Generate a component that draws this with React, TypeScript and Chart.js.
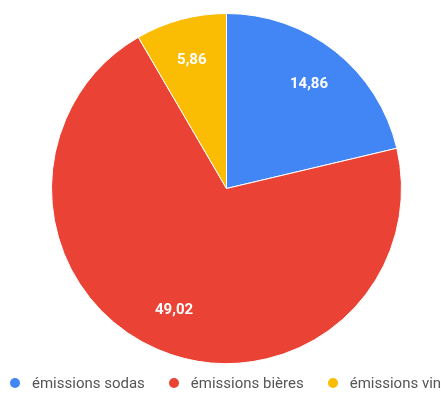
import React, { useEffect, useRef } from "react";
import { Chart, registerables } from "chart.js";

Chart.register(...registerables);

const categories = ["émissions sodas", "émissions bières", "émissions vin"];
const values = [14.86, 49.02, 5.86];
const colors = ["#4285F4", "#EA4335", "#FBBC04"];

const fmt = (v: number) => v.toFixed(2).replace(".", ",");

const sliceLabels = {
  id: "sliceLabels",
  afterDatasetsDraw(chart: any) {
    const ctx = chart.ctx;
    const meta = chart.getDatasetMeta(0);
    ctx.save();
    ctx.fillStyle = "#ffffff";
    ctx.font = "bold 15px Roboto, Arial, sans-serif";
    ctx.textAlign = "center";
    ctx.textBaseline = "middle";
    meta.data.forEach((arc: any, i: number) => {
      const { x, y, startAngle, endAngle, outerRadius } = arc.getProps(
        ["x", "y", "startAngle", "endAngle", "outerRadius"],
        true
      );
      const mid = (startAngle + endAngle) / 2;
      const r = outerRadius * 0.76;
      ctx.fillText(fmt(values[i]), x + Math.cos(mid) * r, y + Math.sin(mid) * r);
    });
    ctx.restore();
  },
};

export default function App() {
  const ref = useRef<HTMLCanvasElement | null>(null);
  useEffect(() => {
    if (!ref.current) return;
    const chart = new Chart(ref.current, {
      type: "pie",
      data: {
        labels: categories,
        datasets: [
          {
            data: values,
            backgroundColor: colors,
            borderColor: "#ffffff",
            borderWidth: 1,
          },
        ],
      },
      options: {
        animation: false,
        responsive: false,
        layout: { padding: { top: 13, bottom: 32, left: 51, right: 40 } },
        plugins: {
          legend: { display: false },
          tooltip: { enabled: false },
        },
      },
      plugins: [sliceLabels],
    });
    return () => chart.destroy();
  }, []);

  return (
    <div
      style={{
        position: "fixed",
        left: 0,
        top: 0,
        width: 442,
        height: 396,
        overflow: "hidden",
        background: "#ffffff",
      }}
    >
      <canvas ref={ref} width={442} height={396} style={{ display: "block" }} />
      <div
        style={{
          position: "absolute",
          left: 10,
          top: 374,
          display: "flex",
          alignItems: "center",
          whiteSpace: "nowrap",
          fontFamily: "Roboto, Arial, sans-serif",
          fontSize: 15,
          color: "#555555",
          lineHeight: "18px",
        }}
      >
        {categories.map((c, i) => (
          <div
            key={c}
            style={{ display: "flex", alignItems: "center", marginRight: 24 }}
          >
            <span
              style={{
                width: 10,
                height: 10,
                borderRadius: "50%",
                background: colors[i],
                marginRight: 12,
                display: "inline-block",
              }}
            />
            <span>{c}</span>
          </div>
        ))}
      </div>
    </div>
  );
}
